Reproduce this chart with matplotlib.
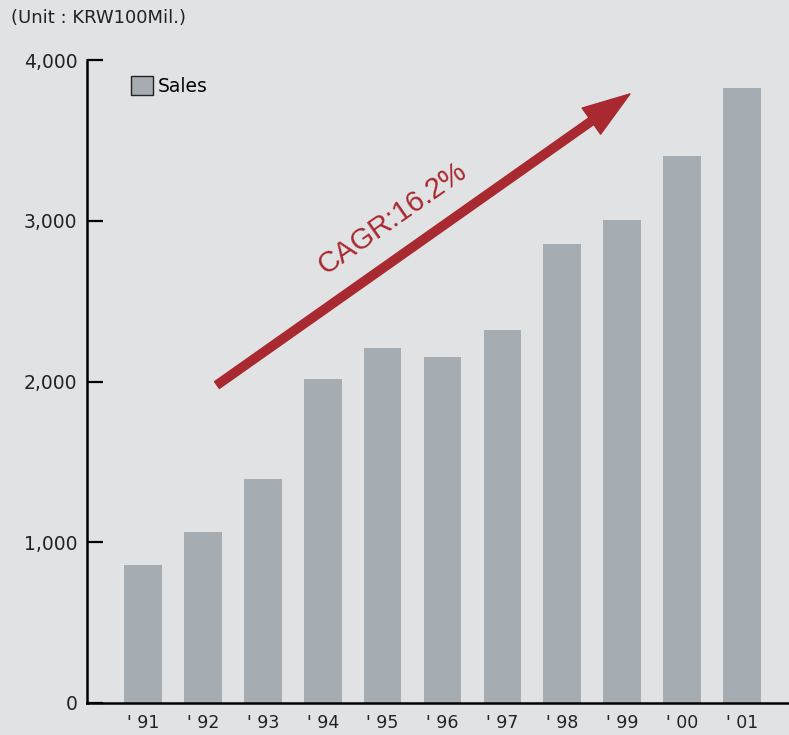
import matplotlib.pyplot as plt
from matplotlib.patches import Patch

years = ["'91", "'92", "'93", "'94", "'95", "'96", "'97", "'98", "'99", "'00", "'01"]
sales = [858, 1064, 1393, 2016, 2208, 2152, 2320, 2855, 3005, 3403, 3826]
yticks = [0, 1000, 2000, 3000, 4000]

bg = '#e1e2e4'
bar_color = '#a5adb2'
red = '#a8292f'

plt.rcParams['font.family'] = ['DejaVu Sans']

fig = plt.figure(figsize=(7.89, 7.35), dpi=100, facecolor=bg)
ax = fig.add_axes([87 / 789, 32 / 735, 702 / 789, 643 / 735])
ax.set_facecolor(bg)

x = list(range(len(years)))
ax.bar(x, sales, width=0.63, color=bar_color, zorder=2)

ax.set_xlim(-0.935, 10.785)
ax.set_ylim(0, 4000)
ax.set_xticks(x)
ax.set_xticklabels([y[0] + ' ' + y[1:] for y in years], fontsize=12.5, color='#222222')
ax.set_yticks(yticks)
ax.set_yticklabels([f'{v:,}' for v in yticks], fontsize=13.5, color='#222222')
ax.tick_params(axis='x', length=0, pad=8)
ax.tick_params(axis='y', direction='in', length=11.5, width=1.6, pad=7, color='black')

for s in ['top', 'right']:
    ax.spines[s].set_visible(False)
for s in ['left', 'bottom']:
    ax.spines[s].set_linewidth(1.8)
    ax.spines[s].set_color('black')

# legend
ax.legend(handles=[Patch(facecolor=bar_color, edgecolor='#222222', linewidth=1.0)],
          labels=['Sales'], loc='upper left', bbox_to_anchor=(0.0627, 0.975),
          frameon=False, fontsize=13.5, borderpad=0, borderaxespad=0,
          handlelength=1.15, handleheight=1.15, handletextpad=0.3)

# growth arrow
ax.annotate('', xy=(8.13, 3789), xytext=(1.235, 1978),
            arrowprops=dict(arrowstyle='simple,head_length=34,head_width=23,tail_width=6',
                            mutation_scale=1, color=red, shrinkA=0, shrinkB=0),
            zorder=3)
ax.text(4.16, 3017, 'CAGR:16.2%', rotation=35, rotation_mode='anchor',
        ha='center', va='center', fontsize=21, color=red, zorder=3,
        family=['Liberation Sans', 'DejaVu Sans'])

fig.text(11 / 789, 1 - 18 / 735, '(Unit : KRW100Mil.)', fontsize=13,
         color='#222222', ha='left', va='center')

fig.savefig('out.png', dpi=100, facecolor=bg)
